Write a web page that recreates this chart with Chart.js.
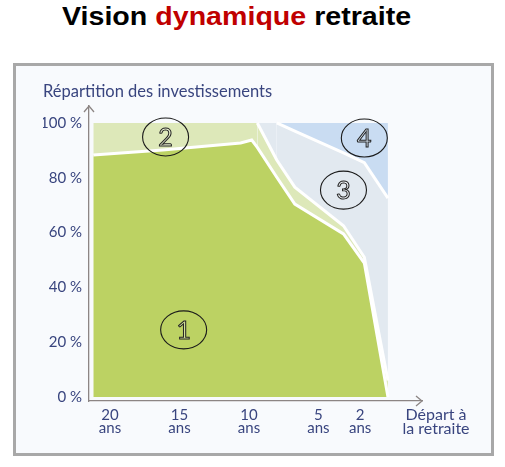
<!DOCTYPE html>
<html><head><meta charset="utf-8">
<script src="https://cdn.jsdelivr.net/npm/chart.js@4"></script>
<style>
html,body{margin:0;padding:0;background:#fff;width:505px;height:467px;overflow:hidden;}
#title{position:absolute;left:62px;top:1px;font:bold 26px "Liberation Sans",Arial,sans-serif;white-space:nowrap;transform-origin:0 0;transform:scaleX(1.1);color:#000;line-height:30px;}
#title .red{color:#c00000;}
#frame{position:absolute;left:13px;top:63px;width:475px;height:387px;border:3px solid #a8a8a8;background:#f8fafd;}
#wrap{position:absolute;left:0;top:0;width:475px;height:387px;}
</style></head><body>
<div id="title">Vision <span class="red">dynamique</span> retraite</div>
<div id="frame"><div id="wrap"><canvas id="c"></canvas></div></div>
<script>
// Years before retirement (x) at each break point of the areas
const years = [21.2, 16.2, 10.6, 9.8, 9.4, 8.0, 6.7, 3.2, 1.7, 0];
// Share of each investment class (%), stacked bottom-up
const part1 = [88.3, 90.1, 92.7, 93.8, 91.1, 80.2, 70.4, 59.5, 48.9, 0];
const part2 = [11.7, 9.9, 7.3, 6.2, 8.9, 6.3, 6.2, 3.0, 2.1, 6.0];
const part3 = [0, 0, 0, 0, 0, 13.5, 20.4, 26.6, 34.5, 66.6];
const part4 = [0, 0, 0, 0, 0, 0, 3.0, 10.9, 14.5, 27.4];
const seriesNames = ['1', '2', '3', '4'];
const xTicks = [20, 15, 10, 5, 2];
const xTickUnit = 'ans';
const yTicks = [0, 20, 40, 60, 80, 100];
const yTitle = 'Répartition des investissements';
const endLabel = ['Départ à', 'la retraite'];
// circled numbers (data coordinates: years, %)
const markers = [
  {t: '1', x: 14.7, y: 24.5},
  {t: '2', x: 16.0, y: 94.9},
  {t: '3', x: 3.2, y: 75.5},
  {t: '4', x: 1.7, y: 94.5}
];

const parts = [part1, part2, part3, part4];
const colors = ['#bcd263', '#dde8b9', '#e2e9f0', '#c9dcf2'];
const cums = [];
parts.forEach((p, d) => cums.push(p.map((v, i) => v + (d ? cums[d - 1][i] : 0))));

const labelColor = '#39457f';
const axisColor = '#8c8584';
const font = 'Lato, "Open Sans", sans-serif';

const datasets = parts.map((p, d) => ({
  label: seriesNames[d],
  data: years.map((x, i) => ({x: x, y: p[i]})),
  backgroundColor: colors[d],
  borderColor: '#ffffff',
  borderWidth: d === 3 ? 0 : 3,
  fill: d === 0 ? 'origin' : '-1',
  pointRadius: 0,
  tension: 0,
  segment: {
    borderColor: ctx => (cums[d][ctx.p0DataIndex] >= 99.9 && cums[d][ctx.p1DataIndex] >= 99.9) ? 'rgba(0,0,0,0)' : '#ffffff'
  }
}));

const decor = {
  id: 'decor',
  afterDatasetsDraw(chart) {
    const c = chart.ctx, xs = chart.scales.x, ys = chart.scales.y, a = chart.chartArea;
    c.save();
    // markers
    markers.forEach(m => {
      const px = xs.getPixelForValue(m.x), py = ys.getPixelForValue(m.y);
      c.beginPath();
      c.ellipse(px, py, 23, 19, 0, 0, Math.PI * 2);
      c.strokeStyle = '#1a1a1a'; c.lineWidth = 1.1; c.stroke();
      c.font = '25px ' + font;
      c.textAlign = 'center'; c.textBaseline = 'middle';
      c.lineWidth = 1; c.strokeStyle = '#222';
      c.fillStyle = 'rgba(255,255,255,0.35)';
      c.fillText(m.t, px, py + 1);
      c.strokeText(m.t, px, py + 1);
    });
    // axis arrows
    c.strokeStyle = axisColor; c.lineWidth = 1.3;
    c.beginPath();
    c.moveTo(a.left - 5, a.top + 6); c.lineTo(a.left, a.top); c.lineTo(a.left + 5, a.top + 6);
    c.stroke();
    c.beginPath();
    c.moveTo(a.right - 6, a.bottom - 5); c.lineTo(a.right, a.bottom); c.lineTo(a.right - 6, a.bottom + 5);
    c.stroke();
    // end label
    c.fillStyle = labelColor;
    c.font = '16px ' + font;
    c.textAlign = 'center'; c.textBaseline = 'middle';
    c.fillText(endLabel[0], a.right + 14, a.bottom + 14);
    c.fillText(endLabel[1], a.right + 14, a.bottom + 28);
    c.restore();
  }
};

new Chart(document.getElementById('c'), {
  type: 'line',
  data: {datasets: datasets},
  options: {
    responsive: true,
    maintainAspectRatio: false,
    animation: false,
    layout: {padding: {left: 27, right: 69, top: 16, bottom: 10}},
    plugins: {
      legend: {display: false},
      tooltip: {enabled: false},
      title: {
        display: true, text: yTitle, align: 'start',
        color: labelColor, font: {family: font, size: 16.5, weight: 'normal'},
        padding: {top: 0, bottom: 4.2}
      }
    },
    scales: {
      x: {
        type: 'linear', reverse: true, min: -2.45, max: 21.51,
        grid: {display: false, drawTicks: false},
        border: {display: true, color: axisColor, width: 1.3},
        afterBuildTicks: s => { s.ticks = xTicks.map(v => ({value: v})); },
        afterFit: s => { s.height = 42; },
        ticks: {
          autoSkip: false, maxRotation: 0, padding: 7,
          color: labelColor, font: {family: font, size: 15, lineHeight: 0.9},
          callback: v => [String(v), xTickUnit]
        }
      },
      y: {
        type: 'linear', stacked: true, min: -1.46, max: 106.2,
        grid: {display: false, drawTicks: false},
        border: {display: true, color: axisColor, width: 1.3},
        afterBuildTicks: s => { s.ticks = yTicks.map(v => ({value: v})); },
        afterFit: s => { s.width = 46; },
        ticks: {
          padding: 7, color: labelColor, font: {family: font, size: 15},
          callback: v => v + ' %'
        }
      }
    }
  },
  plugins: [decor]
});
</script>
</body></html>
